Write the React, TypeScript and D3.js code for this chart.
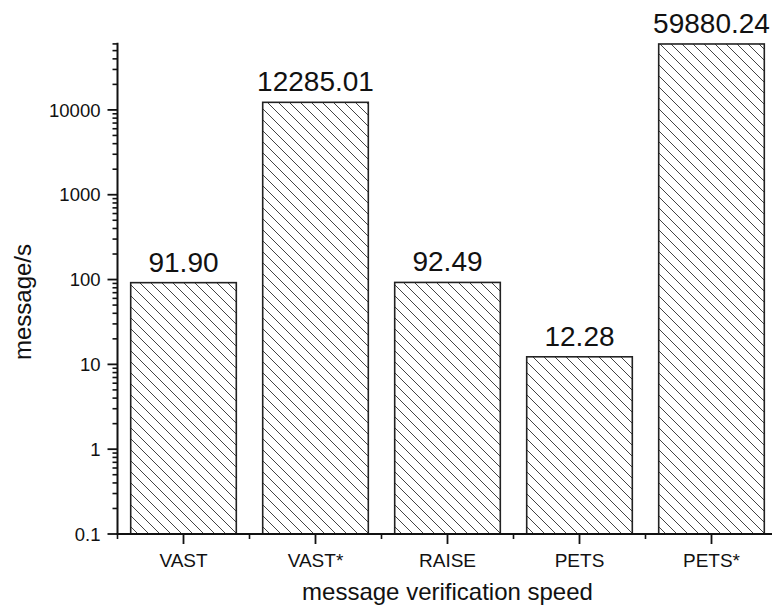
import React from "react";
import * as d3 from "d3";

const categories = ["VAST", "VAST*", "RAISE", "PETS", "PETS*"];
const values = [91.9, 12285.01, 92.49, 12.28, 59880.24];
const valueLabels = ["91.90", "12285.01", "92.49", "12.28", "59880.24"];
const majorTicks = [0.1, 1, 10, 100, 1000, 10000];
const majorTickLabels = ["0.1", "1", "10", "100", "1000", "10000"];
const yTitle = "message/s";
const xTitle = "message verification speed";

const W = 772;
const H = 613;
const axisX = 117.5;
const axisY = 534;
const topY = 42.7;
const font = "Arial, 'Liberation Sans', Helvetica, sans-serif";
const S = 11;

export default function App() {
  const x = d3
    .scaleBand<string>()
    .domain(categories)
    .range([axisX, axisX + 660])
    .paddingInner(0.2)
    .paddingOuter(0.1);
  const y = d3.scaleLog().domain([0.1, 62000]).range([axisY, topY]);
  const step = x.step();

  const minorTicks: number[] = [];
  for (let k = -1; k <= 4; k++) {
    for (let m = 2; m <= 9; m++) {
      const v = m * Math.pow(10, k);
      if (v <= 62000) minorTicks.push(v);
    }
  }
  const xMinor = d3.range(0, categories.length + 1).map((i) => axisX + i * step);

  return (
    <svg
      width={W}
      height={H}
      style={{ position: "absolute", left: 0, top: 0, background: "#fff" }}
      fontFamily={font}
    >
      <defs>
        <pattern id="hatch" patternUnits="userSpaceOnUse" width={S} height={S}>
          <path
            d={`M0,0 L${S},${S} M${-S / 2},${S / 2} L${S / 2},${S * 1.5} M${S / 2},${-S / 2} L${S * 1.5},${S / 2}`}
            stroke="#222"
            strokeWidth={0.85}
            fill="none"
          />
        </pattern>
      </defs>
      {/* bars */}
      {categories.map((c, i) => {
        const bx = x(c)!;
        const by = y(values[i]);
        return (
          <g key={c}>
            <rect
              x={bx}
              y={by}
              width={x.bandwidth()}
              height={axisY - by}
              fill="url(#hatch)"
              stroke="#222"
              strokeWidth={1.6}
            />
            <text
              x={bx + x.bandwidth() / 2}
              y={by - 11}
              textAnchor="middle"
              fontSize={28}
              fill="#111"
            >
              {valueLabels[i]}
            </text>
          </g>
        );
      })}
      {/* y axis */}
      <line x1={axisX} x2={axisX} y1={axisY} y2={topY} stroke="#111" strokeWidth={2} />
      {minorTicks.map((v) => (
        <line key={"m" + v} x1={axisX - 5} x2={axisX} y1={y(v)} y2={y(v)} stroke="#111" strokeWidth={1.6} />
      ))}
      {majorTicks.map((v, i) => (
        <g key={"M" + v}>
          <line x1={axisX - 10} x2={axisX} y1={y(v)} y2={y(v)} stroke="#111" strokeWidth={1.8} />
          <text x={axisX - 17} y={y(v)} dy="0.36em" textAnchor="end" fontSize={18.5} fill="#111">
            {majorTickLabels[i]}
          </text>
        </g>
      ))}
      {/* x axis */}
      <line x1={axisX - 1} x2={axisX + 662} y1={axisY} y2={axisY} stroke="#111" strokeWidth={2} />
      {xMinor.map((xv, i) => (
        <line key={"xm" + i} x1={xv} x2={xv} y1={axisY} y2={axisY + 5} stroke="#111" strokeWidth={1.6} />
      ))}
      {categories.map((c) => {
        const cx = x(c)! + x.bandwidth() / 2;
        return (
          <g key={"xt" + c}>
            <line x1={cx} x2={cx} y1={axisY} y2={axisY + 10} stroke="#111" strokeWidth={1.8} />
            <text x={cx} y={567} textAnchor="middle" fontSize={19} fill="#111">
              {c}
            </text>
          </g>
        );
      })}
      <text x={axisX + 330} y={600} textAnchor="middle" fontSize={24} fill="#111">
        {xTitle}
      </text>
      <text
        transform={`translate(31, 302) rotate(-90)`}
        textAnchor="middle"
        fontSize={24}
        fill="#111"
      >
        {yTitle}
      </text>
    </svg>
  );
}
